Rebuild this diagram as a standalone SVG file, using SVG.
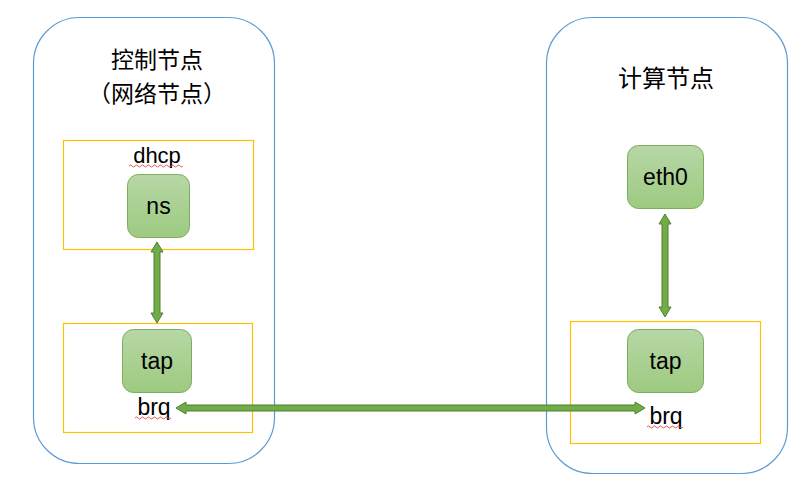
<svg xmlns="http://www.w3.org/2000/svg" width="809" height="491" viewBox="0 0 809 491">
<defs>
<linearGradient id="g" x1="0" y1="0" x2="0" y2="1">
<stop offset="0" stop-color="#B7D7A6"/>
<stop offset="1" stop-color="#9DCA80"/>
</linearGradient>
</defs>
<style>
.host{fill:#fff;stroke:#5B9BD5;stroke-width:1.2}
.box{fill:none;stroke:#FFC000;stroke-width:1.2}
.node{fill:url(#g);stroke:#7BAE5C;stroke-width:1}
.t{font-family:"Liberation Sans","Noto Sans CJK SC",sans-serif;fill:#000;text-anchor:middle}
.cjk{font-family:"Noto Sans CJK SC","Liberation Sans",sans-serif;font-size:24px;fill:#000;text-anchor:middle}
.arr{fill:#70AD47;stroke:#527F34;stroke-width:1}
.sq{fill:none;stroke:#E03030;stroke-width:0.8}
</style>
<rect width="809" height="491" fill="#fff"/>
<g id="control-host">
<rect class="host" x="33.5" y="17.5" width="241" height="446" rx="46"/>
<text class="cjk" x="157" y="68" font-size="23" style="font-size:23px">控制节点</text>
<text class="cjk" x="157" y="102" style="font-size:23px">（网络节点）</text>
</g>
<g id="compute-host">
<rect class="host" x="546.5" y="17.5" width="241" height="456" rx="46"/>
<text class="cjk" x="666" y="87">计算节点</text>
</g>
<g id="dhcp">
<rect class="box" x="63.5" y="140.5" width="190" height="109"/>
<text class="t" x="157" y="163" font-size="22">dhcp</text>
<path class="sq" d="M129 166 q1.5 -2 3 0 t3 0 t3 0 t3 0 t3 0 t3 0 t3 0 t3 0 t3 0 t3 0 t3 0 t3 0 t3 0 t3 0 t3 0 t3 0 t3 0 t3 0"/>
</g>
<g id="ns">
<rect class="node" x="127.5" y="174.5" width="62" height="63" rx="11"/>
<text class="t" x="158.5" y="214" font-size="23">ns</text>
</g>
<g id="brq-left">
<rect class="box" x="63.5" y="323.5" width="189" height="109"/>
<text class="t" x="154" y="415" font-size="23">brq</text>
<path class="sq" d="M135 418 q1.5 -2 3 0 t3 0 t3 0 t3 0 t3 0 t3 0 t3 0 t3 0 t3 0 t3 0 t3 0 t3 0"/>
</g>
<g id="tap-left">
<rect class="node" x="122.5" y="329.5" width="69" height="63" rx="11"/>
<text class="t" x="157" y="369" font-size="23">tap</text>
</g>
<g id="eth0">
<rect class="node" x="627.5" y="145.5" width="76" height="63" rx="11"/>
<text class="t" x="665.5" y="185" font-size="23">eth0</text>
</g>
<g id="brq-right">
<rect class="box" x="570.5" y="321.5" width="190" height="122"/>
<text class="t" x="666" y="424" font-size="23">brq</text>
<path class="sq" d="M647 427 q1.5 -2 3 0 t3 0 t3 0 t3 0 t3 0 t3 0 t3 0 t3 0 t3 0 t3 0 t3 0 t3 0"/>
</g>
<g id="tap-right">
<rect class="node" x="627.5" y="329.5" width="76" height="63" rx="11"/>
<text class="t" x="665.5" y="369" font-size="23">tap</text>
</g>
<g id="connectors">
<polygon class="arr" points="157,242 163,252 160,252 160,313 163,313 157,323 151,313 154,313 154,252 151,252"/>
<polygon class="arr" points="665,214 671,224 668,224 668,307 671,307 665,317 659,307 662,307 662,224 659,224"/>
<polygon class="arr" points="176,408 186,402 186,405 635,405 635,402 645,408 635,414 635,411 186,411 186,414"/>
</g>
</svg>
